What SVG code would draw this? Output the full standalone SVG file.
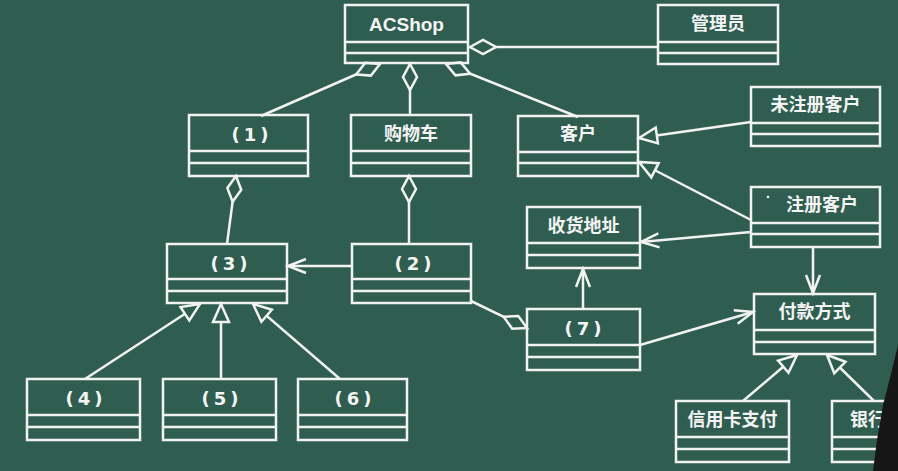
<svg xmlns="http://www.w3.org/2000/svg" width="898" height="471" viewBox="0 0 898 471">
<defs>
<style>
.box rect{fill:none;stroke:#f2f2f2;stroke-width:2.5}
.box line{stroke:#f2f2f2;stroke-width:2.5}
.box text{fill:#f4f4f4;font-family:"Liberation Sans","Noto Sans CJK SC",sans-serif;font-weight:bold;font-size:18px;text-anchor:middle;dominant-baseline:central}
.box text.num{font-family:"DejaVu Sans",sans-serif;font-size:18px;letter-spacing:4px}
#edges line{stroke:#f2f2f2;stroke-width:2.5;fill:none}
.dia{marker-start:url(#diamond)}
.nav{marker-end:url(#open)}
.gen{marker-end:url(#tri)}
</style>
<marker id="diamond" markerUnits="userSpaceOnUse" orient="auto" refX="0" refY="0" markerWidth="30" markerHeight="20" overflow="visible">
<path d="M0,0 L13,-7 L26,0 L13,7 Z" fill="#2f5e51" stroke="#f2f2f2" stroke-width="2.5" stroke-linejoin="miter"/>
</marker>
<marker id="open" markerUnits="userSpaceOnUse" orient="auto" refX="0" refY="0" markerWidth="20" markerHeight="20" overflow="visible">
<path d="M-18,-7 L0,0 L-18,7" fill="none" stroke="#f2f2f2" stroke-width="2.5"/>
</marker>
<marker id="tri" markerUnits="userSpaceOnUse" orient="auto" refX="0" refY="0" markerWidth="20" markerHeight="20" overflow="visible">
<path d="M0,0 L-18,-8 L-18,8 Z" fill="#2f5e51" stroke="#f2f2f2" stroke-width="2.5"/>
</marker>
</defs>
<rect x="0" y="0" width="898" height="471" fill="#2f5e51"/>

<g id="edges">
<line class="dia" x1="470" y1="47" x2="658" y2="47"/>
<line class="dia" x1="380" y1="64" x2="261" y2="116"/>
<line class="dia" x1="410" y1="64" x2="410" y2="116"/>
<line class="dia" x1="446" y1="64" x2="578" y2="117"/>
<line class="dia" x1="236" y1="176" x2="227" y2="244"/>
<line class="dia" x1="409" y1="176" x2="409" y2="244"/>
<line class="nav" x1="352" y1="266" x2="288" y2="266"/>
<line class="dia" x1="527" y1="328" x2="471" y2="301"/>
<line class="nav" x1="583" y1="309" x2="583" y2="269"/>
<line class="nav" x1="751" y1="232" x2="641" y2="242"/>
<line class="nav" x1="813" y1="247" x2="813" y2="293"/>
<line class="nav" x1="640" y1="345" x2="753" y2="312"/>
<line class="gen" x1="751" y1="122" x2="639" y2="138"/>
<line class="gen" x1="751" y1="220" x2="639" y2="162"/>
<line class="gen" x1="85" y1="379" x2="200" y2="304"/>
<line class="gen" x1="221" y1="379" x2="221" y2="304"/>
<line class="gen" x1="340" y1="379" x2="253" y2="304"/>
<line class="gen" x1="743" y1="401" x2="797" y2="355"/>
<line class="gen" x1="874" y1="401" x2="827" y2="355"/>
</g>

<g id="acshop" class="box">
<rect x="345" y="5" width="123" height="58"/><line x1="345" y1="42" x2="468" y2="42"/><line x1="345" y1="53" x2="468" y2="53"/>
<text x="406.5" y="24" style="font-size:19px">ACShop</text>
</g>
<g id="admin" class="box">
<rect x="658" y="5" width="120" height="59"/><line x1="658" y1="42" x2="778" y2="42"/><line x1="658" y1="53" x2="778" y2="53"/>
<text x="718" y="24">管理员</text>
</g>
<g id="n1" class="box">
<rect x="189" y="115" width="119" height="61"/><line x1="189" y1="151" x2="308" y2="151"/><line x1="189" y1="163" x2="308" y2="163"/>
<text class="num" x="252" y="134">(1)</text>
</g>
<g id="cart" class="box">
<rect x="351" y="115" width="120" height="61"/><line x1="351" y1="151" x2="471" y2="151"/><line x1="351" y1="163" x2="471" y2="163"/>
<text x="411" y="134">购物车</text>
</g>
<g id="customer" class="box">
<rect x="518" y="116" width="120" height="60"/><line x1="518" y1="152" x2="638" y2="152"/><line x1="518" y1="163" x2="638" y2="163"/>
<text x="578" y="134">客户</text>
</g>
<g id="unreg" class="box">
<rect x="751" y="87" width="129" height="59"/><line x1="751" y1="123" x2="880" y2="123"/><line x1="751" y1="134" x2="880" y2="134"/>
<text x="815.5" y="105">未注册客户</text>
</g>
<g id="reg" class="box">
<rect x="751" y="187" width="129" height="60"/><line x1="751" y1="223" x2="880" y2="223"/><line x1="751" y1="234" x2="880" y2="234"/>
<circle cx="768" cy="197" r="1.3" fill="#f2f2f2"/>
<text x="822" y="205">注册客户</text>
</g>
<g id="addr" class="box">
<rect x="527" y="207" width="113" height="61"/><line x1="527" y1="243" x2="640" y2="243"/><line x1="527" y1="255" x2="640" y2="255"/>
<text x="583.5" y="226">收货地址</text>
</g>
<g id="n3" class="box">
<rect x="167" y="244" width="120" height="59"/><line x1="167" y1="279" x2="287" y2="279"/><line x1="167" y1="291" x2="287" y2="291"/>
<text class="num" x="231" y="263">(3)</text>
</g>
<g id="n2" class="box">
<rect x="352" y="244" width="119" height="59"/><line x1="352" y1="279" x2="471" y2="279"/><line x1="352" y1="291" x2="471" y2="291"/>
<text class="num" x="415" y="263">(2)</text>
</g>
<g id="n7" class="box">
<rect x="527" y="309" width="113" height="61"/><line x1="527" y1="345" x2="640" y2="345"/><line x1="527" y1="357" x2="640" y2="357"/>
<text class="num" x="585" y="328">(7)</text>
</g>
<g id="pay" class="box">
<rect x="754" y="294" width="121" height="60"/><line x1="754" y1="330" x2="875" y2="330"/><line x1="754" y1="342" x2="875" y2="342"/>
<text x="814.5" y="312">付款方式</text>
</g>
<g id="n4" class="box">
<rect x="27" y="379" width="113" height="61"/><line x1="27" y1="415" x2="140" y2="415"/><line x1="27" y1="427" x2="140" y2="427"/>
<text class="num" x="86" y="398">(4)</text>
</g>
<g id="n5" class="box">
<rect x="163" y="379" width="113" height="61"/><line x1="163" y1="415" x2="276" y2="415"/><line x1="163" y1="427" x2="276" y2="427"/>
<text class="num" x="222" y="398">(5)</text>
</g>
<g id="n6" class="box">
<rect x="298" y="379" width="109" height="61"/><line x1="298" y1="415" x2="407" y2="415"/><line x1="298" y1="427" x2="407" y2="427"/>
<text class="num" x="355" y="398">(6)</text>
</g>
<g id="credit" class="box">
<rect x="676" y="401" width="113" height="61"/><line x1="676" y1="437" x2="789" y2="437"/><line x1="676" y1="449" x2="789" y2="449"/>
<text x="732.5" y="420">信用卡支付</text>
</g>
<g id="bank" class="box">
<rect x="832" y="401" width="113" height="61"/><line x1="832" y1="437" x2="945" y2="437"/><line x1="832" y1="449" x2="945" y2="449"/>
<text x="850" y="420" style="text-anchor:start">银行</text>
</g>
<path d="M898,345 L890,378 L883,405 L877,440 L873,471 L898,471 Z" fill="#161616"/>
</svg>
